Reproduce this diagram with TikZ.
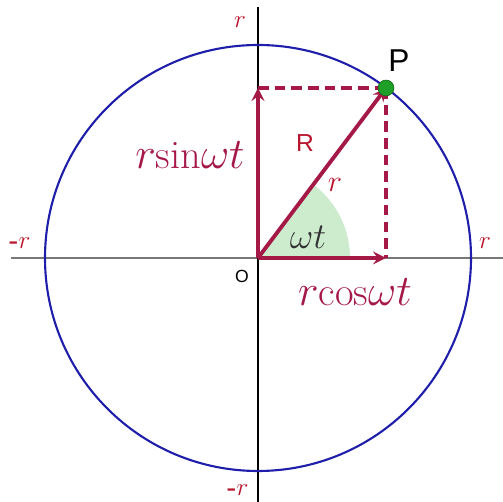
\documentclass[tikz,border=0pt]{standalone}
\usepackage{xcolor}
\usepackage{amsmath}
\usepackage{fontspec}
\usepackage{tikz}
\usetikzlibrary{arrows, positioning, calc}
\newfontfamily\arialfont{Liberation Sans}
\definecolor{vecred}{RGB}{165, 25, 70}
\definecolor{labelred}{RGB}{185, 20, 45}
\definecolor{circblue}{RGB}{30, 30, 170}
\definecolor{axisgray}{RGB}{120, 120, 120}
\definecolor{wedgegreen}{RGB}{205, 236, 205}
\definecolor{pointgreen}{RGB}{30, 160, 40}

\begin{document}
\begin{tikzpicture}[
        x=0.02cm, y=0.02cm,
        vec/.style={draw=vecred, line width=2.2pt, -stealth},
        proj/.style={draw=vecred, line width=2.2pt, dashed, dash pattern=on 6pt off 3.5pt},
        axislbl/.style={text=labelred, font=\fontsize{14}{16}\selectfont},
        biglbl/.style={text=vecred, font=\fontsize{23}{27}\selectfont},
        sanslbl/.style={font=\arialfont},
    ]
    \useasboundingbox (-258,-244) rectangle (245,258);

    % Puntos
    \coordinate (O) at (0,0);
    \coordinate (P) at (128,170);
    \coordinate (Py) at (0,170);
    \coordinate (Px) at (128,0);

    % Angulo
    \fill[wedgegreen] (O) -- (92,0) arc[start angle=0, end angle=53, radius=92] -- cycle;

    % Ejes y circulo
    \coordinate (xl) at (-247,0);
    \coordinate (xr) at (245,0);
    \coordinate (yt) at (0,251);
    \coordinate (yb) at (0,-244);
    \draw[axisgray, line width=1.1pt] (xl) -- (xr);
    \draw[black, line width=1.1pt] (yb) -- (yt);
    \draw[circblue, line width=1.2pt] (O) circle[radius=213];

    % Proyecciones
    \draw[proj] (Py) -- (P);
    \draw[proj] (P) -- (Px);

    % Vectores
    \draw[vec] (O) -- (Py);
    \draw[vec] (O) -- (Px);
    \draw[vec] (O) -- (P);
    \node[circle, fill=pointgreen, draw=pointgreen!70!black, inner sep=0pt, minimum size=9pt] (pt) at (P) {};

    % Etiquetas
    \node[axislbl] (rtop) at (-18,236) {$r$};
    \node[axislbl] (rleft) at (-238,15) {\textbf{-}$r$};
    \node[axislbl] (rright) at (227,15) {$r$};
    \node[axislbl] (rbot) at (-20,-232) {\textbf{-}$r$};
    \node[sanslbl, font=\arialfont\fontsize{18}{21}\selectfont] (plbl) at (141,197) {P};
    \node[sanslbl, text=labelred, font=\arialfont\fontsize{14}{16}\selectfont] (Rlbl) at (47,115) {R};
    \node[axislbl, font=\fontsize{16}{18}\selectfont] (rvec) at (77,73) {$r$};
    \node[biglbl] (sinlbl) at (-68,103) {$r\mathrm{sin}\omega t$};
    \node[biglbl] (coslbl) at (97,-34) {$r\mathrm{cos}\omega t$};
    \node[text=black!80, font=\fontsize{20}{24}\selectfont] (wt) at (50,21) {$\omega t$};
    \node[sanslbl, font=\arialfont\fontsize{10}{12}\selectfont] (olbl) at (-16,-18) {O};
\end{tikzpicture}
\end{document}
